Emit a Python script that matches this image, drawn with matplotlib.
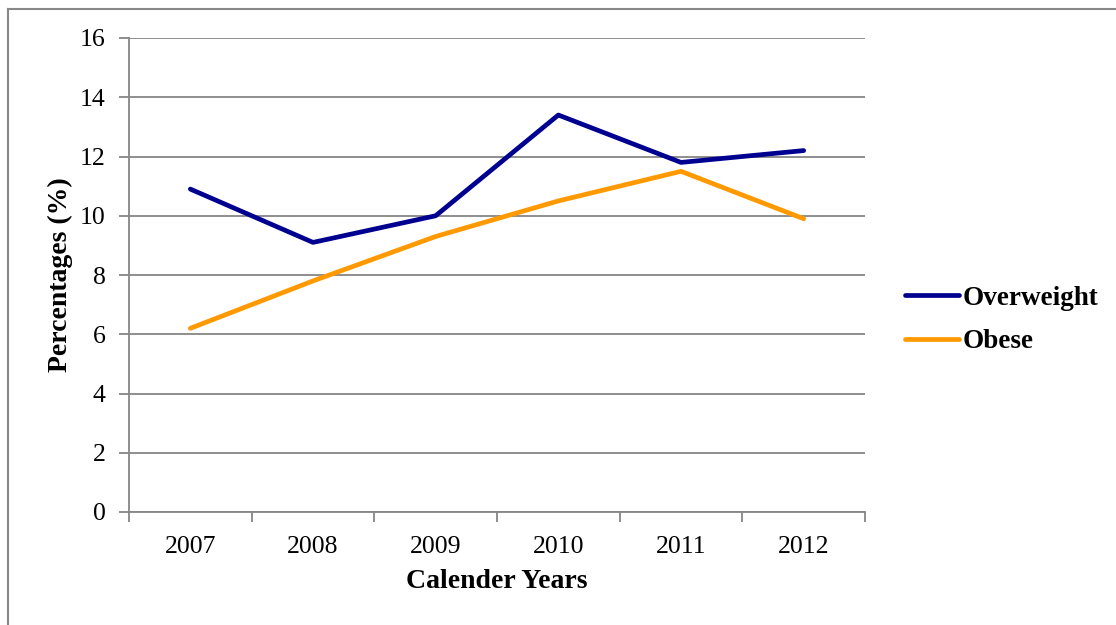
import matplotlib.pyplot as plt
import numpy as np

years = ['2007', '2008', '2009', '2010', '2011', '2012']
overweight = [10.9, 9.1, 10.0, 13.4, 11.8, 12.2]
obese = [6.2, 7.8, 9.3, 10.5, 11.5, 9.9]

plt.rcParams['font.family'] = ['Liberation Serif', 'DejaVu Serif']
grid_col = '#868686'

fig = plt.figure(figsize=(11.16, 6.25), dpi=100)
ax = fig.add_axes([0.1156, 0.1808, 0.6595, 0.7584])

x = np.arange(len(years))
l1, = ax.plot(x, overweight, color='#000090', lw=3.4, solid_capstyle='round', label='Overweight')
l2, = ax.plot(x, obese, color='#ff9900', lw=3.4, solid_capstyle='round', label='Obese')

ax.set_xlim(-0.5, len(years) - 0.5)
ax.set_ylim(0, 16)
ax.set_yticks(range(0, 17, 2))
ax.yaxis.grid(True, color=grid_col, lw=1.3)
ax.set_axisbelow(True)

# category labels centred, tick marks on the boundaries
ax.set_xticks(x)
ax.set_xticklabels(years)
ax.tick_params(axis='x', length=0, pad=17, labelsize=18.5)
ax.set_xticks(np.arange(-0.5, len(years)), minor=True)
ax.tick_params(axis='x', which='minor', length=7, width=1.3, color=grid_col, direction='out')
ax.tick_params(axis='y', length=7, width=1.3, color=grid_col, pad=10, labelsize=18.5)

for s in ['top', 'right']:
    ax.spines[s].set_visible(False)
for s in ['left', 'bottom']:
    ax.spines[s].set_color(grid_col)
    ax.spines[s].set_linewidth(1.3)

ax.set_xlabel('Calender Years', fontsize=20, fontweight='bold', labelpad=8)
ax.set_ylabel('Percentages (%)', fontsize=20, fontweight='bold', labelpad=5)

fig.legend(handles=[l1, l2], loc='center left', bbox_to_anchor=(0.789, 0.488),
           frameon=False, prop={'size': 19.5, 'weight': 'bold'},
           handlelength=2.0, handletextpad=0.12, labelspacing=0.68)

# outer chart border (only top and left edges fall inside the image)
fig.add_artist(plt.Line2D([0.0072, 0.0072], [0, 0.986], color='#888888', lw=1.5,
                          transform=fig.transFigure))
fig.add_artist(plt.Line2D([0.0072, 1.0], [0.986, 0.986], color='#888888', lw=1.5,
                          transform=fig.transFigure))

fig.savefig('out.png', dpi=100)
